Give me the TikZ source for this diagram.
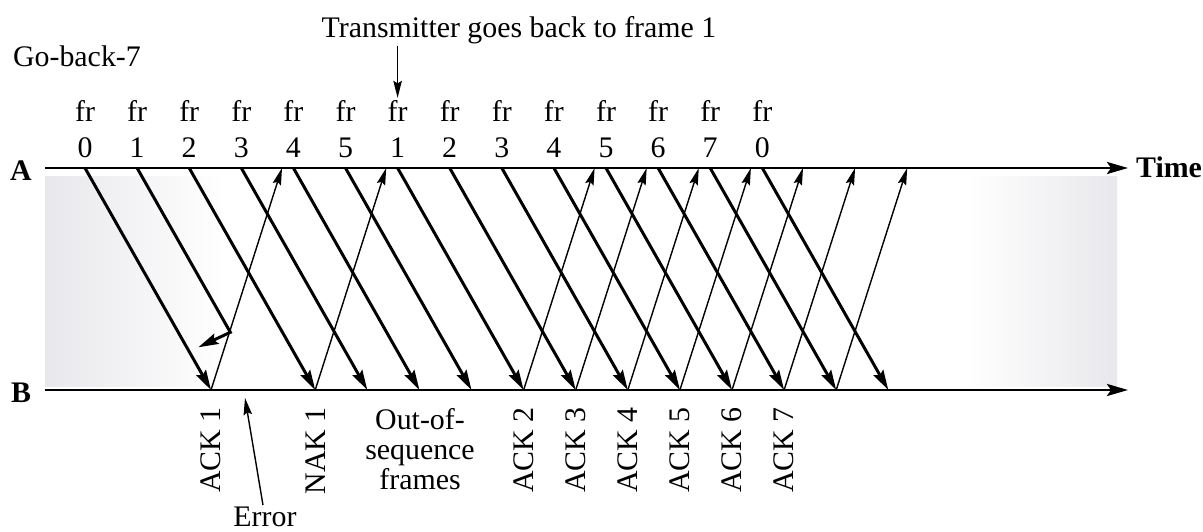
\documentclass[tikz,border=0pt]{standalone}
\usepackage{fontspec}
\setmainfont{Liberation Serif}
\usepackage{tikz}
\usetikzlibrary{arrows.meta,calc}
\definecolor{Band}{RGB}{232, 232, 236}

\begin{document}
\begin{tikzpicture}[x=0.02cm, y=-0.02cm,
    font=\fontsize{17}{20}\selectfont,
    txt/.style={inner sep=1pt},
    axis/.style={line width=1.6pt, -{Stealth[length=0.42cm, width=0.24cm, inset=0.08cm]}},
    frame/.style={line width=1.7pt, -{Stealth[length=0.4cm, width=0.22cm, inset=0.06cm]}},
    reply/.style={line width=0.8pt, -{Stealth[length=0.34cm, width=0.17cm, inset=0.05cm]}},
    ack/.style={txt, rotate=90, anchor=east}]
    \useasboundingbox (0,0) rectangle (1203,531);

    % shaded band between the stations
    \fill[left color=Band, right color=white] (45,176) rectangle (225,386);
    \fill[left color=white, right color=Band] (965,176) rectangle (1117,386);

    % stations A and B
    \coordinate (a0) at (45,168);
    \coordinate (a1) at (1128,168);
    \coordinate (b0) at (45,390);
    \coordinate (b1) at (1128,390);
    \draw[axis] (a0) -- (a1);
    \draw[axis] (b0) -- (b1);
    \node[txt, anchor=base, font=\fontsize{17}{20}\selectfont\bfseries] (A) at (21,180) {A};
    \node[txt, anchor=base, font=\fontsize{17}{20}\selectfont\bfseries] (B) at (21,402) {B};
    \node[txt, anchor=base west, font=\fontsize{17}{20}\selectfont\bfseries] (time) at (1134,177) {Time};
    \node[txt, anchor=base west] (title) at (11,66) {Go-back-7};

    % frames sent by A
    \foreach \n [count=\i from 0] in {0,1,2,3,4,5,1,2,3,4,5,6,7,0}
    {
    \coordinate (s\i) at ({85+52.1*\i},168);
    \coordinate (e\i) at ({211+52.1*\i},390);
    \coordinate (r\i) at ({282+52.1*\i},168);
    \node[txt, anchor=base] (fr\i) at ({85+52.1*\i},121) {fr};
    \node[txt, anchor=base] (num\i) at ({85+52.1*\i},157) {\n};
    }
    \foreach \i in {0,2,3,4,5,6,7,8,9,10,11,12,13}
        \draw[frame] (s\i) -- (e\i);

    % frame 1 is damaged on the way
    \coordinate (hit) at ($(s1)!0.74!(e1)$);
    \coordinate (drop) at ($(hit)+(-32,15)$);
    \draw[frame] (s1) -- (hit) -- (drop);

    % replies from B
    \foreach \i in {0,2,6,7,8,9,10,11,12}
        \draw[reply] (e\i) -- (r\i);
    \foreach \i/\t in {0/ACK 1, 2/NAK 1, 6/ACK 2, 7/ACK 3, 8/ACK 4, 9/ACK 5, 10/ACK 6, 11/ACK 7}
        \node[ack] (lbl\i) at ($(e\i)+(0,15)$) {\t};

    \node[txt, align=center, font=\fontsize{17}{17}\selectfont] (oos) at (420,449) {Out-of-\\sequence\\frames};

    \node[txt] (err) at (265,517) {Error};
    \coordinate (errpt) at (245,398);
    \draw[reply] (err) -- (errpt);

    \node[txt, anchor=base] (tx) at (519,37) {Transmitter goes back to frame 1};
    \draw[reply] (tx.south -| fr6) -- (fr6.north);
\end{tikzpicture}
\end{document}
